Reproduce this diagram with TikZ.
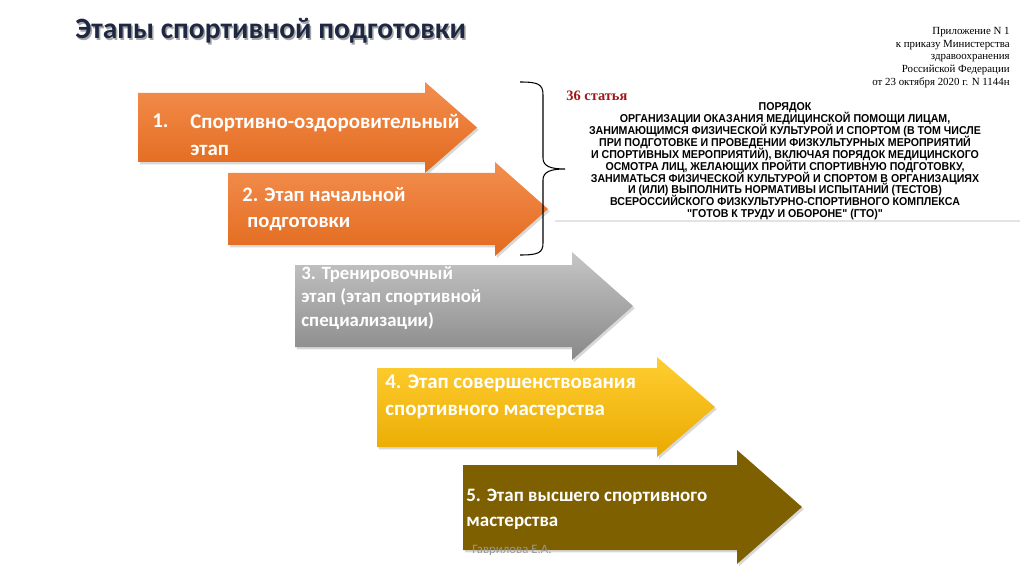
\documentclass[tikz,border=0pt]{standalone}
\usepackage{fontspec}
\setmainfont{Carlito}
\newfontfamily\docsans[FakeStretch=0.93]{Liberation Sans}
\newfontfamily\docserif{Liberation Serif}
\usetikzlibrary{shadows}

\definecolor{orangetop}{RGB}{243,142,78}
\definecolor{orangebot}{RGB}{226,106,30}
\definecolor{graytop}{RGB}{198,198,198}
\definecolor{graybot}{RGB}{136,136,136}
\definecolor{yellowtop}{RGB}{255,206,50}
\definecolor{yellowbot}{RGB}{234,170,0}
\definecolor{olivebrown}{RGB}{127,96,0}
\definecolor{titlenavy}{RGB}{30,40,66}
\definecolor{orderred}{RGB}{160,22,22}
\newcommand\tightlines{\lineskiplimit=-10pt\relax}

\begin{document}
\begin{tikzpicture}[
  x=0.02cm, y=-0.02cm,
  every node/.style={inner sep=0pt},
  shadowed/.style={drop shadow={opacity=0.3, shadow xshift=1pt, shadow yshift=-1.3pt}},
  orangearrow/.style={shadowed, top color=orangetop, bottom color=orangebot},
  grayarrow/.style={shadowed, top color=graytop, bottom color=graybot},
  yellowarrow/.style={shadowed, top color=yellowtop, bottom color=yellowbot},
  brownarrow/.style={shadowed, fill=olivebrown},
  stagetext/.style={text=white, align=left, font=\bfseries\fontsize{11.7pt}{14.5pt}\selectfont},
  titletext/.style={anchor=west, font=\bfseries\fontsize{16.8pt}{19pt}\selectfont},
  bracepen/.style={draw=black, line width=0.6pt},
  docserifsm/.style={font=\docserif\fontsize{6.2pt}{7.2pt}\selectfont},
  docsanscaps/.style={font=\docsans\bfseries\fontsize{6.5pt}{6.8pt}\selectfont\tightlines}
]
  \useasboundingbox[fill=white] (0,0) rectangle (1024,574);

  % Title with shadow
  \node[titletext, text=black!35] (titleshadow) at (76.5,32.5) {Этапы спортивной подготовки};
  \node[titletext, text=titlenavy] (title) at (75,30.5) {Этапы спортивной подготовки};

  % Stage arrows (drawn top to bottom)
  \path[orangearrow] (138,93) -- (425,93) -- (425,82) -- (477,127.5) -- (425,173) -- (425,162) -- (138,162) -- cycle;
  \path[orangearrow] (228,173) -- (495,173) -- (495,162) -- (548,209) -- (495,256) -- (495,245) -- (228,245) -- cycle;
  \path[grayarrow] (295,265) -- (572,265) -- (572,252) -- (633,306) -- (572,360) -- (572,347) -- (295,347) -- cycle;
  \path[yellowarrow] (377,368) -- (657,368) -- (657,357) -- (715,407) -- (657,457) -- (657,447) -- (377,447) -- cycle;
  \path[brownarrow] (463,465) -- (737,465) -- (737,450) -- (802,507) -- (737,564) -- (737,550) -- (463,550) -- cycle;

  % Stage labels
  \node[stagetext, anchor=west, font=\bfseries\fontsize{11.9pt}{15pt}\selectfont] (num1) at (152,121) {1.};
  \node[stagetext, anchor=west, font=\bfseries\fontsize{11.9pt}{15pt}\selectfont] (stage1) at (190,135) {Спортивно-оздоровительный\\этап};
  \node[stagetext, anchor=west] (stage2) at (242,209) {2. Этап начальной\\\hspace{0.25em}подготовки};
  \node[stagetext, anchor=west, font=\bfseries\fontsize{10.7pt}{13.6pt}\selectfont] (stage3) at (301,298) {3. Тренировочный\\этап (этап спортивной\\специализации)};
  \node[stagetext, anchor=west, font=\bfseries\fontsize{11.9pt}{15.3pt}\selectfont] (stage4) at (385,397) {4. Этап совершенствования\\спортивного мастерства};
  \node[stagetext, anchor=west, font=\bfseries\fontsize{10.8pt}{14.2pt}\selectfont] (stage5) at (466,509) {5. Этап высшего спортивного\\мастерства};
  \node[anchor=west, text=black!40, font=\fontsize{7.3pt}{8pt}\selectfont] (author) at (472,550) {Гаврилова Е.А.};

  % Brace grouping stages 1 and 2
  \draw[bracepen] (520,82) .. controls (538,82) and (543,84) .. (543,95) -- (543,158)
    .. controls (543,166) and (550,169) .. (565,169)
    .. controls (550,169) and (543,172) .. (543,180) -- (543,243)
    .. controls (543,253) and (538,255) .. (520,255);

  % Order document excerpt
  \node[docserifsm, anchor=north east, align=right] (annex) at (1010,27) {Приложение N 1\\к приказу Министерства\\здравоохранения\\Российской Федерации\\от 23 октября 2020 г. N 1144н};
  \node[anchor=west, text=orderred, font=\docserif\bfseries\fontsize{8.2pt}{9pt}\selectfont] (article) at (566,96) {36 статья};
  \node[docsanscaps, anchor=north, align=center] (order) at (785,102) {ПОРЯДОК\\
    ОРГАНИЗАЦИИ ОКАЗАНИЯ МЕДИЦИНСКОЙ ПОМОЩИ ЛИЦАМ,\\
    ЗАНИМАЮЩИМСЯ ФИЗИЧЕСКОЙ КУЛЬТУРОЙ И СПОРТОМ (В ТОМ ЧИСЛЕ\\
    ПРИ ПОДГОТОВКЕ И ПРОВЕДЕНИИ ФИЗКУЛЬТУРНЫХ МЕРОПРИЯТИЙ\\
    И СПОРТИВНЫХ МЕРОПРИЯТИЙ), ВКЛЮЧАЯ ПОРЯДОК МЕДИЦИНСКОГО\\
    ОСМОТРА ЛИЦ, ЖЕЛАЮЩИХ ПРОЙТИ СПОРТИВНУЮ ПОДГОТОВКУ,\\
    ЗАНИМАТЬСЯ ФИЗИЧЕСКОЙ КУЛЬТУРОЙ И СПОРТОМ В ОРГАНИЗАЦИЯХ\\
    И (ИЛИ) ВЫПОЛНИТЬ НОРМАТИВЫ ИСПЫТАНИЙ (ТЕСТОВ)\\
    ВСЕРОССИЙСКОГО ФИЗКУЛЬТУРНО-СПОРТИВНОГО КОМПЛЕКСА\\
    "ГОТОВ К ТРУДУ И ОБОРОНЕ" (ГТО)"};
  \draw[gray!22, line width=0.8pt] (555,221) -- (1020,221);
\end{tikzpicture}
\end{document}
